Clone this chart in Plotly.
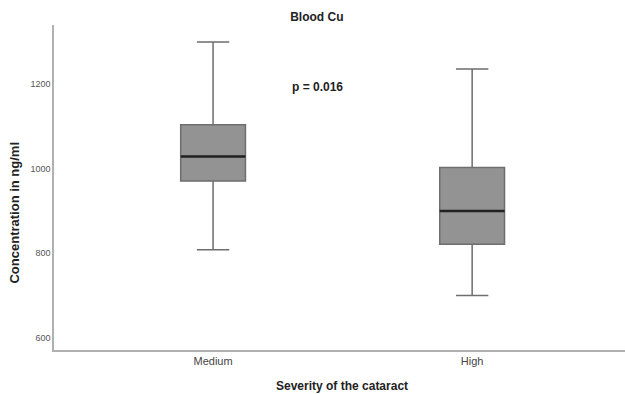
import plotly.graph_objects as go

categories = ["Medium", "High"]
lower_fence = [808, 700]
q1_vals = [971, 821]
median_vals = [1029, 900]
q3_vals = [1104, 1003]
upper_fence = [1300, 1236]
y_ticks = [600, 800, 1000, 1200]

box_width = 0.25

fig = go.Figure()
fig.add_trace(go.Box(
    x=categories,
    q1=q1_vals, median=median_vals, q3=q3_vals,
    lowerfence=lower_fence, upperfence=upper_fence,
    width=box_width, whiskerwidth=0.5,
    fillcolor="#939393",
    line=dict(color="#6e6e6e", width=1.5),
    boxpoints=False, showlegend=False, hoverinfo="skip",
))

# darker median lines on top of the boxes
for i, m in enumerate(median_vals):
    fig.add_shape(type="line", xref="x", yref="y",
                  x0=i - box_width / 2, x1=i + box_width / 2, y0=m, y1=m,
                  line=dict(color="#222222", width=2.5))

font_family = "Liberation Sans, Arial"

fig.add_annotation(text="<b>p = 0.016</b>", xref="paper", yref="paper",
                   x=0.462, y=0.809, xanchor="center", yanchor="middle",
                   showarrow=False,
                   font=dict(family=font_family, size=12, color="#222"))
fig.add_annotation(text="<b>Severity of the cataract</b>", xref="paper", yref="paper",
                   x=0.504, y=-0.111, xanchor="center", yanchor="middle",
                   showarrow=False,
                   font=dict(family=font_family, size=12, color="#222"))
fig.add_annotation(text="<b>Concentration in ng/ml</b>", xref="paper", yref="paper",
                   x=-0.0683, y=0.423, xanchor="center", yanchor="middle",
                   textangle=-90, showarrow=False,
                   font=dict(family=font_family, size=13, color="#222"))

fig.update_layout(
    width=625, height=394, autosize=False,
    margin=dict(l=54, r=0, t=25, b=44),
    paper_bgcolor="white", plot_bgcolor="white",
    font=dict(family=font_family, color="#333"),
    title=dict(text="<b>Blood Cu</b>", x=0.507, xanchor="center",
               y=1 - 17 / 394, yanchor="middle",
               font=dict(size=12, color="#222")),
    xaxis=dict(
        type="category", range=[-0.614, 1.59], automargin=False,
        showline=True, linecolor="#b0b0b0", linewidth=1.5,
        ticks="", showgrid=False, zeroline=False,
        tickfont=dict(size=11, color="#444"),
    ),
    yaxis=dict(
        range=[571, 1340], tickvals=y_ticks, automargin=False,
        showline=True, linecolor="#b0b0b0", linewidth=1.5,
        ticks="", showgrid=False, zeroline=False,
        tickfont=dict(size=9, color="#555"),
    ),
)

fig.write_html(
    "out.html",
    config={"responsive": False, "displayModeBar": False},
    post_script="document.body.style.margin='0';document.body.style.overflow='hidden';",
)
